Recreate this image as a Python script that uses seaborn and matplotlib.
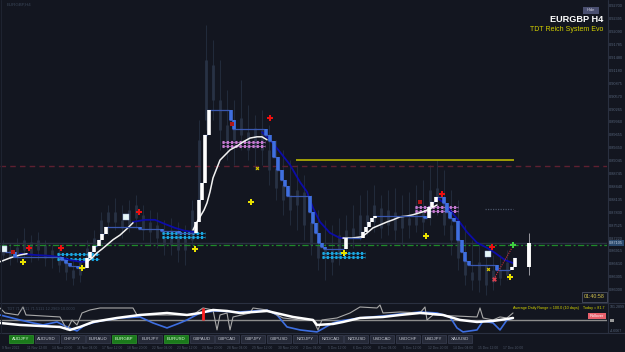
import numpy as np
import pandas as pd
import matplotlib
matplotlib.use("Agg")
import matplotlib.pyplot as plt
import seaborn as sns
from matplotlib.patches import Rectangle

# ---------------- data ----------------
symbol_title = "EURGBP H4"
system_title = "TDT Reich System Evo"

# faint price candles (bar index, high, low, open, close)
candle_x = [3, 10, 17, 24, 31, 38, 45, 52, 59, 66, 73, 80, 87, 94, 101, 108, 115, 122, 129, 136,
            143, 150, 157, 164, 171, 178, 185, 192, 199, 206, 213, 220, 227, 234, 241, 248, 255, 262,
            269, 276, 283, 290, 297, 304, 311, 318, 325, 332, 339, 346, 353, 360, 367, 374, 381, 388,
            395, 402, 409, 416, 423, 430, 437, 444, 451, 458, 465, 472, 479, 486, 493, 500, 507]
candle_hi = [.8718, .8711, .8722, .8746, .8729, .8736, .8718, .8706, .8699, .8682, .8675, .8682, .8718,
             .8741, .8784, .8800, .8817, .8800, .8812, .8824, .8800, .8788, .8784, .8765, .8770, .8760,
             .8753, .8812, .9001, .9225, .9190, .9142, .9072, .9048, .9095, .9036, .9013, .9024, .8989,
             .8954, .8930, .8906, .8895, .8871, .8824, .8788, .8765, .8753, .8770, .8777, .8800, .8824,
             .8836, .8847, .8824, .8836, .8840, .8824, .8831, .8847, .8859, .8895, .8906, .8883, .8836,
             .8812, .8753, .8718, .8706, .8694, .8682, .8682, .8694]
candle_lo = [.8666, .8659, .8666, .8675, .8666, .8670, .8656, .8652, .8642, .8623, .8611, .8618, .8652,
             .8675, .8706, .8729, .8741, .8722, .8736, .8746, .8718, .8706, .8699, .8682, .8682, .8666,
             .8659, .8706, .8777, .8977, .9001, .8930, .8906, .8895, .8930, .8906, .8883, .8895, .8847,
             .8812, .8777, .8753, .8741, .8718, .8682, .8647, .8623, .8635, .8659, .8682, .8699, .8718,
             .8729, .8736, .8722, .8729, .8718, .8706, .8722, .8736, .8729, .8753, .8777, .8729, .8682,
             .8647, .8611, .8600, .8595, .8588, .8600, .8611, .8623]
candle_op = [.8699, .8694, .8680, .8694, .8713, .8694, .8706, .8675, .8689, .8666, .8647, .8635, .8666,
             .8694, .8722, .8760, .8784, .8765, .8753, .8800, .8777, .8736, .8753, .8722, .8706, .8729,
             .8694, .8718, .8800, .9001, .9131, .9048, .8989, .8954, .9006, .8972, .8935, .8977, .8930,
             .8888, .8847, .8824, .8800, .8831, .8760, .8706, .8675, .8694, .8675, .8718, .8746, .8729,
             .8777, .8760, .8793, .8753, .8784, .8746, .8770, .8753, .8788, .8770, .8840, .8817, .8753,
             .8718, .8675, .8642, .8623, .8659, .8618, .8647, .8635]
candle_cl = [.8682, .8675, .8701, .8718, .8682, .8718, .8675, .8694, .8659, .8642, .8628, .8666, .8699,
             .8722, .8765, .8784, .8760, .8746, .8788, .8770, .8741, .8760, .8722, .8706, .8741, .8694,
             .8722, .8788, .8954, .9142, .9048, .8977, .8942, .9001, .8965, .8930, .8982, .8930, .8883,
             .8840, .8812, .8788, .8836, .8753, .8706, .8675, .8699, .8666, .8729, .8741, .8722, .8777,
             .8753, .8800, .8746, .8788, .8741, .8777, .8753, .8793, .8760, .8836, .8812, .8753, .8718,
             .8675, .8635, .8623, .8666, .8611, .8647, .8628, .8666]
live_x, live_hi, live_lo, live_op, live_cl = 529, 0.8734, 0.8635, 0.8654, 0.8711

# trend staircase (bar index of each step, level after step, 1 = up / 0 = down)
step_x = [5, 13, 60, 64, 68, 76, 85, 88, 92, 97, 100, 104, 138, 160, 177, 194, 197, 200, 203, 207,
          229, 232, 264, 268, 272, 276, 280, 283, 286, 308, 311, 314, 317, 320, 323, 344, 361, 364,
          367, 370, 373, 423, 427, 430, 434, 442, 445, 448, 452, 456, 460, 463, 467, 495, 510, 513]
step_lvl = [.8689, .8677, .8670, .8663, .8656, .8652, .8675, .8689, .8703, .8718, .8732, .8748,
            .8744, .8739, .8734, .8760, .8812, .8852, .8965, .9024, .9001, .8980, .8965, .8951,
            .8913, .8883, .8859, .8845, .8821, .8784, .8758, .8734, .8711, .8701, .8696, .8722,
            .8736, .8748, .8760, .8770, .8774, .8770, .8795, .8807, .8819, .8805, .8784, .8770,
            .8762, .8718, .8689, .8668, .8659, .8647, .8654, .8675]
step_up = [0, 0, 0, 0, 0, 0, 1, 1, 1, 1, 1, 1, 0, 0, 0, 1, 1, 1, 1, 1, 0, 0, 0, 0, 0, 0, 0, 0, 0,
           0, 0, 0, 0, 0, 0, 1, 1, 1, 1, 1, 1, 0, 1, 1, 1, 0, 0, 0, 0, 0, 0, 0, 0, 0, 1, 1]
step_end = 516

# navy (down) moving average, drawn in segments
navy_x = [20, 35, 50, 60, 70, 80, 87,
          133, 145, 155, 165, 175, 185, 195,
          262, 270, 280, 290, 300, 307, 313, 320, 330, 340, 345,
          437, 445, 450, 458, 467, 477, 487, 495, 505, 513]
navy_p = [.8685, .8682, .8680, .8677, .8670, .8666, .8666,
          .8760, .8765, .8765, .8755, .8746, .8739, .8736,
          .8972, .8954, .8925, .8895, .8854, .8831, .8793, .8760, .8734, .8722, .8722,
          .8817, .8803, .8788, .8765, .8736, .8711, .8699, .8687, .8670, .8663]
navy_seg = [0] * 7 + [1] * 7 + [2] * 11 + [3] * 10

# white (up) moving average, drawn in segments
wma_x = [0, 10, 20, 27,
         87, 92, 97, 102, 107, 113, 120, 127, 133,
         193, 197, 200, 204, 207, 210, 213, 217, 220, 225, 230, 237, 243, 250, 257, 262, 267,
         343, 352, 362, 367, 373, 380, 387, 393, 400, 407, 413, 423, 430, 437]
wma_p = [.8666, .8675, .8682, .8685,
         .8666, .8675, .8687, .8696, .8706, .8718, .8729, .8744, .8758,
         .8741, .8760, .8772, .8788, .8805, .8831, .8864, .8888, .8906, .8918, .8930, .8939,
         .8949, .8958, .8961, .8961, .8954,
         .8722, .8722, .8725, .8734, .8746, .8753, .8760, .8765, .8772, .8774, .8777, .8784,
         .8791, .8800]
wma_seg = [0] * 4 + [1] * 9 + [2] * 17 + [3] * 14

# horizontal levels
red_level = 0.8892
green_level = 0.8706
bid_level = 0.87105
yellow_level, yellow_from, yellow_to = 0.8906, 296, 514
dotted_level, dotted_from, dotted_to = 0.8791, 485, 513

# zones (start, end, upper, lower)
cyan_zones = [(57, 99, .8685, .8673), (162, 205, .8734, .8725), (322, 365, .8687, .8677)]
pink_zones = [(222, 265, .8949, .8939), (415, 458, .8795, .8786)]

# signals
sell_x = [29, 61, 139, 270, 442, 492]
sell_p = [.8699, .8699, .8784, .9006, .8826, .8701]
buy_x = [23, 82, 195, 251, 344, 426, 510]
buy_p = [.8666, .8652, .8696, .8807, .8687, .8727, .8630]
box_x = [4, 126, 488]
box_p = [.8696, .8772, .8685]
ymark_x = [257, 488]
ymark_p = [.8888, .8649]
rmark_x = [13, 232, 420]
rmark_p = [.8689, .8991, .8807]
trail_x = [494, 512]
trail_p = [.8626, .8699]
green_sig_x, green_sig_p = 513, 0.8706

price_ticks = [0.92700, 0.92395, 0.92090, 0.91785, 0.91480, 0.91180, 0.90875, 0.90570, 0.90265,
               0.89960, 0.89655, 0.89350, 0.89045, 0.88745, 0.88440, 0.88135, 0.87830, 0.87525,
               0.87220, 0.86915, 0.86610, 0.86305, 0.86000]

# oscillator panel
osc_grey_x = [0, 5, 18, 23, 26, 60, 67, 72, 77, 82, 90, 100, 133, 137, 193, 200, 203, 213, 217, 220,
              227, 230, 233, 250, 253, 267, 283, 300, 313, 318, 322, 337, 350, 360, 377, 380, 383,
              400, 420, 425, 427, 433, 477, 480, 483, 493, 500, 507, 513]
osc_grey_v = [84, 49, 35, 91, 35, 21, -70, 0, -35, 49, 70, 84, 84, 35, 35, 70, 84, 70, -70, 35,
              49, -70, 21, 49, 84, 70, 14, 0, 0, -70, 0, 14, 49, 91, 84, 105, 49,
              56, 49, 91, 0, 35, 21, 84, 14, 0, 21, 14, 49]
osc_white_x = [0, 20, 60, 70, 80, 93, 117, 140, 167, 187, 200, 213, 227, 240, 267, 293, 313, 317,
               333, 343, 360, 383, 400, 420, 433, 443, 460, 477, 493, 507, 513]
osc_white_v = [-21, -35, -49, -70, -49, -14, 14, 35, 49, 35, 49, 70, 63, 49, 63, 21, 0, -35,
               -28, -14, 14, 21, 35, 49, 42, 35, 0, -14, -7, 7, 14]
osc_blue_x = [0, 20, 33, 43, 57, 67, 77, 85, 100, 120, 140, 153, 167, 180, 187, 200, 215, 240, 267,
              277, 287, 300, 317, 333, 340, 360, 383, 400, 420, 437, 450, 457, 463, 477, 483, 493,
              500, 507, 513]
osc_blue_v = [35, 0, -21, -35, -14, -49, -77, -35, -7, 14, 21, -21, -56, -21, 0, 49, 63, 56, 70,
              35, -49, -70, -84, -21, -7, 14, 28, 42, 56, 49, 21, -56, -84, -70, -7, -21,
              -70, 0, 14]
osc_spike_x, osc_spike_v = 203, 84

buttons = ["AUDJPY", "AUDUSD", "CHFJPY", "EURAUD", "EURGBP", "EURJPY", "EURUSD", "GBPAUD", "GBPCAD",
           "GBPJPY", "GBPUSD", "NZDJPY", "NZDCAD", "NZDUSD", "USDCAD", "USDCHF", "USDJPY", "XAUUSD"]
active_buttons = ["AUDJPY", "EURGBP", "EURUSD"]
date_labels = ["9 Nov 2022", "11 Nov 12:00", "14 Nov 20:00", "16 Nov 04:00", "17 Nov 12:00",
               "18 Nov 20:00", "22 Nov 04:00", "23 Nov 12:00", "24 Nov 20:00", "28 Nov 04:00",
               "29 Nov 12:00", "30 Nov 20:00", "2 Dec 04:00", "5 Dec 12:00", "6 Dec 20:00",
               "8 Dec 04:00", "9 Dec 12:00", "12 Dec 20:00", "14 Dec 04:00", "15 Dec 12:00",
               "17 Dec 20:00"]
adr_text = "Average Daily Range = 100.0 (10 days)    Today = 81.7"
countdown = "01:40:58"

# ---------------- style ----------------
BG = "#131620"
sns.set_theme(style="dark", rc={"axes.facecolor": BG, "figure.facecolor": BG,
                                "axes.edgecolor": BG, "axes.grid": False})
plt.rcParams["font.family"] = ["Liberation Sans", "DejaVu Sans"]

W, H = 625, 352
fig = plt.figure(figsize=(6.25, 3.52), dpi=100)


def frame(x0, y0, x1, y1):
    return [x0 / W, 1 - y1 / H, (x1 - x0) / W, (y1 - y0) / H]


ax = fig.add_axes(frame(0, 0, 607, 302))
sub = fig.add_axes(frame(0, 303, 607, 332.5))
for a in (ax, sub):
    for s in a.spines.values():
        s.set_visible(False)
    a.set_xticks([])

ax.set_xlim(0, 607)
ax.set_ylim(0.8571, 0.9284)

# candles
ax.vlines(candle_x, candle_lo, candle_hi, color="#222b3b", lw=0.7, zorder=1)
ax.vlines(candle_x, np.minimum(candle_op, candle_cl), np.maximum(candle_op, candle_cl),
          color="#283244", lw=2.0, zorder=1)
ax.vlines(live_x, live_lo, live_hi, color="#9a9aa0", lw=0.7, zorder=3)
ax.vlines(live_x, live_op, live_cl, color="#ffffff", lw=2.8, zorder=3)

# levels
ax.axhline(red_level, color="#5e2030", lw=1.0, ls=(0, (4, 3)), zorder=2)
ax.axhline(bid_level, color="#2a3142", lw=1.0, zorder=2)
ax.axhline(green_level, color="#1f8a2a", lw=0.9, ls=(0, (5, 2, 1.5, 2)), zorder=2)
ax.hlines(yellow_level, yellow_from, yellow_to, color="#c8c400", lw=1.1, zorder=3)
ax.hlines(dotted_level, dotted_from, dotted_to, color="#4a5466", lw=0.9, linestyles=(0, (1, 1)), zorder=3)

# zones
for zones, col in ((cyan_zones, "#1aa6e0"), (pink_zones, "#c47ad0")):
    for x0, x1, u, l in zones:
        for lvl in (u, l):
            ax.hlines(lvl, x0, x1, color=col, lw=0.5, zorder=4)
            ax.hlines(lvl, x0, x1, color=col, lw=2.2, linestyles=(0, (0.7, 0.7)), zorder=4)

# moving averages (seaborn)
navy_df = pd.DataFrame({"x": navy_x, "p": navy_p, "seg": navy_seg})
wma_df = pd.DataFrame({"x": wma_x, "p": wma_p, "seg": wma_seg})
sns.lineplot(data=navy_df, x="x", y="p", units="seg", estimator=None, sort=False,
             color="#0c0ca8", lw=1.3, ax=ax, legend=False, zorder=5)
sns.lineplot(data=wma_df, x="x", y="p", units="seg", estimator=None, sort=False,
             color="#f2f2f2", lw=1.1, ax=ax, legend=False, zorder=5)

# trend staircase
UPC, DNC, THIN = "#ffffff", "#3f6fe0", "#3a58b0"
for i in range(1, len(step_x)):
    ax.hlines(step_lvl[i - 1], step_x[i - 1], step_x[i], color=THIN, lw=0.9, zorder=6)
    ax.vlines(step_x[i] + 1.5, step_lvl[i - 1], step_lvl[i],
              color=UPC if step_up[i] else DNC, lw=2.6, zorder=7, capstyle="butt")
ax.hlines(step_lvl[-1], step_x[-1], step_end, color=THIN, lw=0.9, zorder=6)

# signals
ax.plot(trail_x, trail_p, color="#c83040", lw=0.8, ls=(0, (1, 1)), zorder=8)
ax.scatter(sell_x, sell_p, marker="P", s=16, color="#ee1010", lw=0, zorder=9)
ax.scatter(buy_x, buy_p, marker="P", s=16, color="#e8e000", lw=0, zorder=9)
ax.scatter(box_x, box_p, marker="s", s=14, color="#e6f6f6", edgecolor="#9ad", lw=0.3, zorder=9)
ax.scatter(ymark_x, ymark_p, marker="X", s=7, color="#d8c800", lw=0, zorder=9)
ax.scatter(rmark_x, rmark_p, marker="s", s=5, color="#b01818", lw=0, zorder=9)
ax.scatter([trail_x[0]], [trail_p[0]], marker="X", s=12, color="#e04050", lw=0, zorder=9)
ax.scatter([green_sig_x], [green_sig_p], marker="P", s=14, color="#40d040", lw=0, zorder=9)

# price axis
ax.yaxis.tick_right()
ax.set_yticks(price_ticks)
ax.set_yticklabels([f"{v:.5f}" for v in price_ticks])
ax.tick_params(axis="y", length=0, pad=1.6, labelsize=2.8, labelcolor="#56647a")
ax.set_xlabel("")
ax.set_ylabel("")
ax.text(1.003, bid_level, f"{bid_level:.5f}", transform=ax.get_yaxis_transform(),
        fontsize=2.8, color="#c8d4e4", va="center", ha="left", zorder=10,
        bbox=dict(boxstyle="square,pad=0.2", fc="#2b4a6e", ec="none"))

# oscillator panel (seaborn)
sub.set_xlim(0, 607)
sub.set_ylim(-88, 119)
sub.set_yticks([])
sub.axhline(0, color="#8c8c8c", lw=1.0, zorder=1)
sns.lineplot(x=osc_blue_x, y=osc_blue_v, estimator=None, sort=False, color="#3d6ee0", lw=1.2, ax=sub, zorder=2)
sns.lineplot(x=osc_grey_x, y=osc_grey_v, estimator=None, sort=False, color="#a8a8a8", lw=0.8, ax=sub, zorder=3)
sns.lineplot(x=osc_white_x, y=osc_white_v, estimator=None, sort=False, color="#ffffff", lw=1.8, ax=sub, zorder=4)
sub.vlines(osc_spike_x, 0, osc_spike_v, color="#ff2020", lw=2.0, zorder=5)
sub.set_xlabel("")
sub.set_ylabel("")

# overlay in pixel coordinates
ov = fig.add_axes([0, 0, 1, 1])
ov.set_xlim(0, W)
ov.set_ylim(H, 0)
ov.axis("off")
ov.patch.set_alpha(0)
ov.plot([0, W], [302.5, 302.5], color="#2a3040", lw=0.8)
ov.plot([0, W], [332.8, 332.8], color="#2a3040", lw=0.8)
ov.plot([607.5, 607.5], [0, 332.8], color="#2a3040", lw=0.8)
ov.plot([1, 1], [0, 332.8], color="#1e2330", lw=0.8)

ov.text(7, 4.5, "EURGBP,H4", fontsize=3.2, color="#3a4658", va="center")
ov.add_patch(Rectangle((583, 6.5), 16, 7, fc="#4a4f70", ec="none"))
ov.text(591, 10, "Hide", fontsize=3.0, color="#d0d0e0", ha="center", va="center")
ov.text(603, 19.5, symbol_title, fontsize=6.6, fontweight="bold", color="#ffffff", ha="right", va="center")
ov.text(603, 29.5, system_title, fontsize=5.0, color="#d4d000", ha="right", va="center")

ov.add_patch(Rectangle((582, 291.5), 25, 10, fc=BG, ec="#4a5062", lw=0.6))
ov.text(594.5, 296.5, countdown, fontsize=3.8, color="#d8c850", ha="center", va="center")

ov.text(7, 308.5, "TDT 71.5111 71.5111 12.2969 10.0000", fontsize=2.8, color="#3a4658", va="center")
ov.text(513, 307.5, adr_text, fontsize=2.7, color="#d8d800", va="center")
ov.add_patch(Rectangle((588, 312.5), 17.5, 6, fc="#e8606c", ec="none"))
ov.text(596.7, 315.6, "Rollover", fontsize=2.8, color="#ffffff", ha="center", va="center")
ov.add_patch(Rectangle((609.5, 318.5), 4, 3, fc="#9a9a9a", ec="none"))
ov.text(609.5, 307, "101.2899", fontsize=2.6, color="#56647a", va="center")
ov.text(609.5, 331, "-4.6067", fontsize=2.6, color="#56647a", va="center")

for i, b in enumerate(buttons):
    x0 = 9 + i * 25.8
    act = b in active_buttons
    ov.add_patch(Rectangle((x0, 334.5), 24, 8.5, fc="#1b7a1b" if act else "#262a38",
                           ec="#2f9a2f" if act else "#3a3f52", lw=0.5))
    ov.text(x0 + 12, 338.9, b, fontsize=3.2, color="#e0ffe0" if act else "#c4c8d2",
            ha="center", va="center")

for i, d in enumerate(date_labels):
    ov.text(2 + i * 25.05, 348.3, d, fontsize=2.4, color="#4c5566", ha="left", va="center")

fig.savefig("out.png", dpi=100, facecolor=BG)
